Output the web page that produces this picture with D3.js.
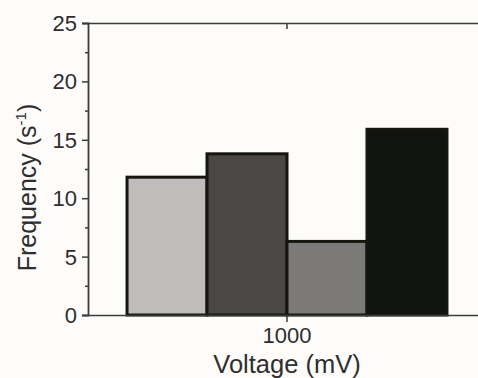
<!DOCTYPE html>
<html><head><meta charset="utf-8">
<script src="https://cdn.jsdelivr.net/npm/d3@7"></script>
<style>html,body{margin:0;padding:0;background:#fdfcfb;}svg{display:block;}</style>
</head><body>
<svg id="c" width="478" height="378"></svg>
<script>
const categories = ["1000"];
const series = ["s1", "s2", "s3", "s4"];
const values = [11.8, 13.8, 6.3, 15.9];
const colors = ["#c0bcbc", "#4a4744", "#7c7a78", "#11130e"];
const yTicks = [0, 5, 10, 15, 20, 25];
const yMinor = [2.5, 7.5, 12.5, 17.5, 22.5];

const svg = d3.select("#c");
const L = 88, R = 486, T = 23, B = 315;
const font = "'Liberation Sans', Arial, sans-serif";
const axisCol = "#3b3b3b";
const textCol = "#2e2e2e";

const y = d3.scaleLinear().domain([0, 25]).range([B, T]);
const x0 = d3.scaleBand().domain(categories).range([L, R]).paddingInner(0).paddingOuter(0.122);
const x1 = d3.scaleBand().domain(series).range([0, x0.bandwidth()]).padding(0);

// bars
const g = svg.append("g");
categories.forEach(cat => {
  g.selectAll("rect.b").data(values).enter().append("rect")
    .attr("x", (d, i) => x0(cat) + x1(series[i]))
    .attr("y", d => y(d))
    .attr("width", x1.bandwidth())
    .attr("height", d => y(0) - y(d))
    .attr("fill", (d, i) => colors[i])
    .attr("stroke", "#15170f")
    .attr("stroke-width", 3);
});

// y axis major
const ya = d3.axisLeft(y).tickValues(yTicks).tickSize(6).tickPadding(5).tickFormat(d3.format("d"));
const yg = svg.append("g").attr("transform", `translate(${L},0)`).call(ya);
yg.select(".domain").attr("stroke", axisCol).attr("stroke-width", 1.8);
yg.selectAll(".tick line").attr("stroke", axisCol).attr("stroke-width", 1.5);
yg.selectAll(".tick text").attr("font-family", font).attr("font-size", 22).attr("fill", textCol).attr("dy", "0.34em");
// minor
const ym = d3.axisLeft(y).tickValues(yMinor).tickSize(3).tickFormat("");
const ymg = svg.append("g").attr("transform", `translate(${L},0)`).call(ym);
ymg.select(".domain").remove();
ymg.selectAll(".tick line").attr("stroke", axisCol).attr("stroke-width", 1.5);

// x axis bottom
const xa = d3.axisBottom(x0).tickSize(7).tickPadding(6).tickSizeOuter(0);
const xg = svg.append("g").attr("transform", `translate(0,${B})`).call(xa);
xg.select(".domain").attr("stroke", axisCol).attr("stroke-width", 1.5);
xg.selectAll(".tick line").attr("stroke", axisCol).attr("stroke-width", 1.5);
xg.selectAll(".tick text").attr("font-family", font).attr("font-size", 22).attr("fill", textCol)
  .attr("dy", null).attr("y", 28);

// top axis
const xt = d3.axisBottom(x0).tickSize(6).tickFormat("").tickSizeOuter(0);
const xtg = svg.append("g").attr("transform", `translate(0,${T})`).call(xt);
xtg.select(".domain").attr("stroke", axisCol).attr("stroke-width", 1.5);
xtg.selectAll(".tick line").attr("stroke", axisCol).attr("stroke-width", 1.5);

// titles
svg.append("text").attr("x", x0("1000") + x0.bandwidth() / 2).attr("y", 373)
  .attr("text-anchor", "middle").attr("font-family", font).attr("font-size", 25.5).attr("fill", textCol)
  .text("Voltage (mV)");
const yt = svg.append("text").attr("transform", `translate(35.5,187.5) rotate(-90)`)
  .attr("text-anchor", "middle").attr("font-family", font).attr("font-size", 25).attr("fill", textCol);
yt.append("tspan").text("Frequency (s");
yt.append("tspan").attr("font-size", 15).attr("dy", -10).text("-1");
yt.append("tspan").attr("dy", 10).text(")");
</script>
</body></html>
